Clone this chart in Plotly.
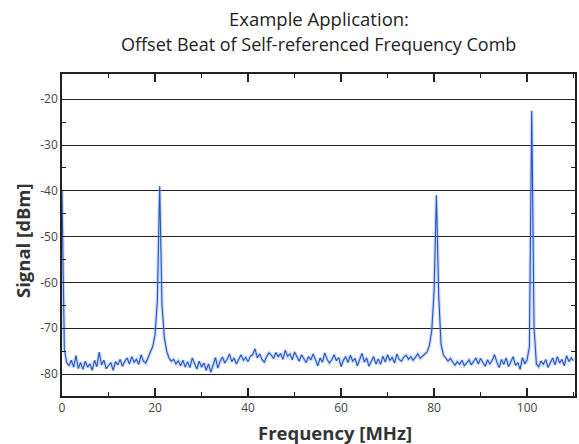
import numpy as np
import plotly.graph_objects as go

# Frequency sample grid (MHz), 0.5 MHz step, 0..110
freq_mhz = np.arange(0, 110.01, 0.5)

# Signal (dBm), one value per 0.5 MHz
signal_0_20 = [
    -40, -74.5, -77.5, -78.2, -77, -78.5, -76, -78.8, -77.5, -79,
    -77.2, -78.5, -77.8, -79.2, -77, -78.4, -75.2, -78, -77, -78.8,
    -78.2, -77.5, -79.2, -77.3, -78, -76.8, -78.3, -77.2, -76.5, -77.8,
    -76.2, -77.4, -76.8, -77.9, -75.8, -77.2, -77.6, -76.5, -75.3, -74,
]
signal_20_40 = [
    -71.5, -64, -39, -65, -72, -75, -76.5, -77.2, -76.8, -77.8,
    -77.1, -78.2, -77, -78.5, -77.3, -78.6, -76.5, -77.8, -78.9, -77.2,
    -78.5, -77.6, -79.2, -77.8, -79.6, -78, -76.4, -78.7, -77.2, -76.3,
    -77.6, -76.8, -75.6, -77.3, -76.5, -77.8, -76.7, -75.8, -77, -76.4,
]
signal_40_60 = [
    -77.3, -76.1, -75.8, -74.5, -76.5, -75.6, -76.8, -77.4, -76.2, -75.4,
    -75.9, -76.6, -75.3, -76.2, -75.5, -76.8, -74.8, -76.1, -75.6, -76.9,
    -75.2, -76.4, -77.2, -75.8, -76.8, -77.5, -76.2, -76.9, -75.6, -77.1,
    -78.2, -76.5, -77.4, -75.4, -76.8, -77.6, -76.9, -75.8, -77.1, -76.4,
]
signal_60_80 = [
    -78.4, -77, -76.2, -77.5, -75.9, -77.2, -76.6, -78.2, -76.9, -75.5,
    -77.4, -76.5, -78.3, -77.1, -76.2, -77.8, -76.7, -77.9, -76.1, -77.4,
    -75.8, -77, -76.4, -77.6, -75.6, -76.8, -77.2, -76.3, -75.9, -76.8,
    -76.2, -77, -76.4, -75.6, -76.6, -76.1, -75.8, -75.2, -73.8, -70.5,
]
signal_80_100 = [
    -62, -41, -63, -73.5, -75.8, -76.4, -77.2, -76.6, -77.5, -78.1,
    -77.3, -77.9, -77, -78.2, -77.6, -76.9, -78, -77.2, -76.5, -77.8,
    -76.6, -77.5, -78.3, -76.9, -77.8, -77, -75.8, -77.4, -78.6, -76.8,
    -77.9, -76.5, -78.4, -77.3, -76.2, -78.1, -77.5, -79, -76.4, -77.8,
]
signal_100_110 = [
    -76.9, -74, -22.5, -70, -77.8, -78.4, -77.2, -77.9, -76.8, -78.6,
    -77.4, -76.5, -78, -76.2, -77.6, -76.8, -78.2, -76, -77.3, -76.5,
    -77.1,
]
signal_dbm = (signal_0_20 + signal_20_40 + signal_40_60 + signal_60_80
              + signal_80_100 + signal_100_110)

y_ticks = [-20, -30, -40, -50, -60, -70, -80]
y_tick_labels = ["-20", "-30", "-40", "-50", "-60", "-70", "-80"]
x_ticks = [0, 20, 40, 60, 80, 100]

fig = go.Figure()
# soft halo
fig.add_trace(go.Scatter(x=freq_mhz, y=signal_dbm, mode="lines",
                         line=dict(color="rgba(110,150,235,0.35)", width=3.5),
                         hoverinfo="skip", showlegend=False))
fig.add_trace(go.Scatter(x=freq_mhz, y=signal_dbm, mode="lines",
                         line=dict(color="#2455c0", width=1.1),
                         showlegend=False))

fig.update_layout(
    width=579, height=444,
    margin=dict(l=62, r=4, t=74, b=48, autoexpand=False),
    paper_bgcolor="white", plot_bgcolor="white",
    font=dict(family="Open Sans, Noto Sans, sans-serif", color="#222"),
)
fig.add_annotation(text="Example Application:", xref="paper", yref="paper",
                   x=0.5, y=1.171, xanchor="center", yanchor="middle", showarrow=False,
                   font=dict(size=18.5, color="#222"))
fig.add_annotation(text="Offset Beat of Self-referenced Frequency Comb", xref="paper",
                   yref="paper", x=0.5, y=1.093, xanchor="center", yanchor="middle",
                   showarrow=False, font=dict(size=18, color="#222"))
# axis titles (placed like in the reference)
fig.add_annotation(text="<b>Frequency [MHz]</b>", xref="paper", yref="paper",
                   x=(335 - 62) / 513, y=-(432 - 396) / 322, xanchor="center",
                   yanchor="middle", showarrow=False, font=dict(size=18.5, color="#333"))
fig.add_annotation(text="<b>Signal [dBm]</b>", xref="paper", yref="paper",
                   x=-(62 - 22) / 513, y=1 - (241 - 74) / 322, xanchor="center",
                   yanchor="middle", textangle=-90, showarrow=False,
                   font=dict(size=18.5, color="#333"))

fig.update_xaxes(
    range=[0, 110.3], tickvals=x_ticks, ticks="inside", ticklen=8, tickwidth=1.5,
    tickcolor="#222", showline=True, linecolor="#222", linewidth=1.5, mirror="ticks",
    showgrid=False, zeroline=False, automargin=False,
    minor=dict(tickvals=[10, 30, 50, 70, 90, 110], ticks="inside", ticklen=4,
               tickwidth=1.3, tickcolor="#222"),
    tickfont=dict(size=12, color="#444", family="Liberation Sans Narrow, Open Sans, sans-serif"),
)
fig.update_yaxes(
    range=[-84.8, -14.5], tickvals=y_ticks, ticktext=y_tick_labels, ticks="inside",
    ticklen=5, tickwidth=1.3,
    tickcolor="#222", showline=True, linecolor="#222", linewidth=1.5, mirror="ticks",
    showgrid=True, gridcolor="#222", gridwidth=1.4, zeroline=False, automargin=False,
    minor=dict(tickvals=[-25, -35, -45, -55, -65, -75], ticks="inside", ticklen=4,
               tickwidth=1.3, tickcolor="#222"),
    tickfont=dict(size=12, color="#444", family="Liberation Sans Narrow, Open Sans, sans-serif"),
)

fig.write_html("out.html", config={"displayModeBar": False},
               post_script="document.body.style.margin='0';")
